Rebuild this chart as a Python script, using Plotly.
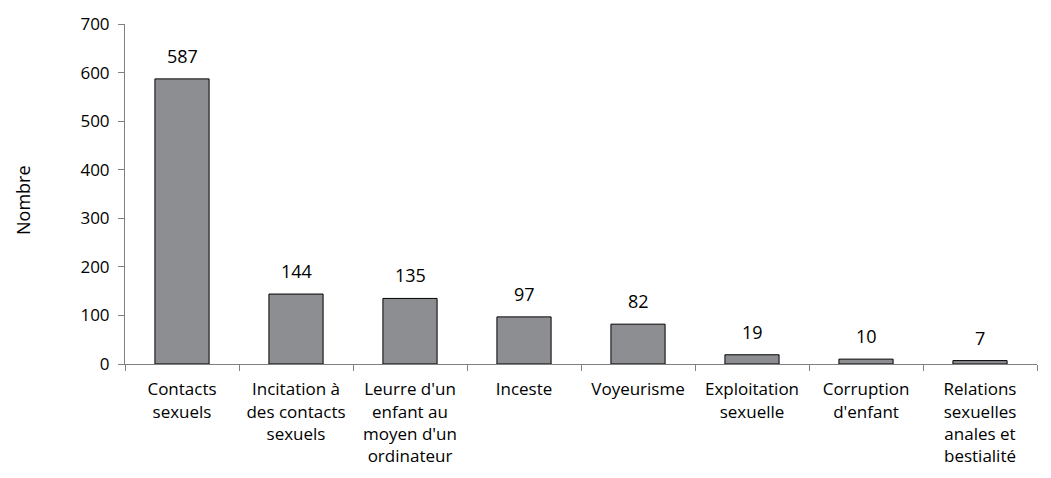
import plotly.graph_objects as go

categories = [
    "Contacts<br>sexuels",
    "Incitation à<br>des contacts<br>sexuels",
    "Leurre d'un<br>enfant au<br>moyen d'un<br>ordinateur",
    "Inceste",
    "Voyeurisme",
    "Exploitation<br>sexuelle",
    "Corruption<br>d'enfant",
    "Relations<br>sexuelles<br>anales et<br>bestialité",
]
values = [587, 144, 135, 97, 82, 19, 10, 7]
y_ticks = [0, 100, 200, 300, 400, 500, 600, 700]
y_title = "Nombre"

FONT = "Open Sans"

# page has an 8px body margin; figure sized/placed accordingly
L, R, T, B = 117, 14, 16, 114
W, H = 1043, 470
PLOT_W = W - L - R
PLOT_H = H - T - B

fig = go.Figure(
    go.Bar(
        x=categories,
        y=values,
        marker=dict(color="#8c8e91", line=dict(color="#000000", width=1)),
        width=0.475,
        hoverinfo="skip",
    )
)

for c, v in zip(categories, values):
    fig.add_annotation(
        x=c, y=v, xref="x", yref="y",
        text=str(v), showarrow=False,
        yanchor="bottom", yshift=9,
        font=dict(family=FONT, size=18, color="#000000"),
    )

fig.add_annotation(
    xref="paper", yref="paper",
    x=-(L - 15) / PLOT_W, y=(T + PLOT_H - 192) / PLOT_H,
    text=y_title, textangle=-90, showarrow=False,
    xanchor="center", yanchor="middle",
    font=dict(family=FONT, size=18, color="#000000"),
)

fig.update_layout(
    width=W,
    height=H,
    margin=dict(l=L, r=R, t=T, b=B, autoexpand=False),
    plot_bgcolor="white",
    paper_bgcolor="white",
    showlegend=False,
    font=dict(family=FONT, size=16, color="#000000"),
)

fig.update_yaxes(
    range=[0, 700],
    tickvals=y_ticks,
    ticktext=[str(t) for t in y_ticks],
    showgrid=False,
    zeroline=False,
    showline=True,
    linecolor="#808080",
    linewidth=1,
    ticks="outside",
    ticklen=6,
    tickcolor="#808080",
    ticklabelstandoff=5,
    automargin=False,
    tickfont=dict(family=FONT, size=17, color="#000000"),
)

fig.update_xaxes(
    showgrid=False,
    showline=True,
    linecolor="#808080",
    linewidth=1,
    ticks="outside",
    tickson="boundaries",
    ticklen=6,
    tickcolor="#808080",
    tickangle=0,
    ticklabelstandoff=10,
    automargin=False,
    tickfont=dict(family=FONT, size=17, color="#000000"),
)

fig.write_html("out.html")
